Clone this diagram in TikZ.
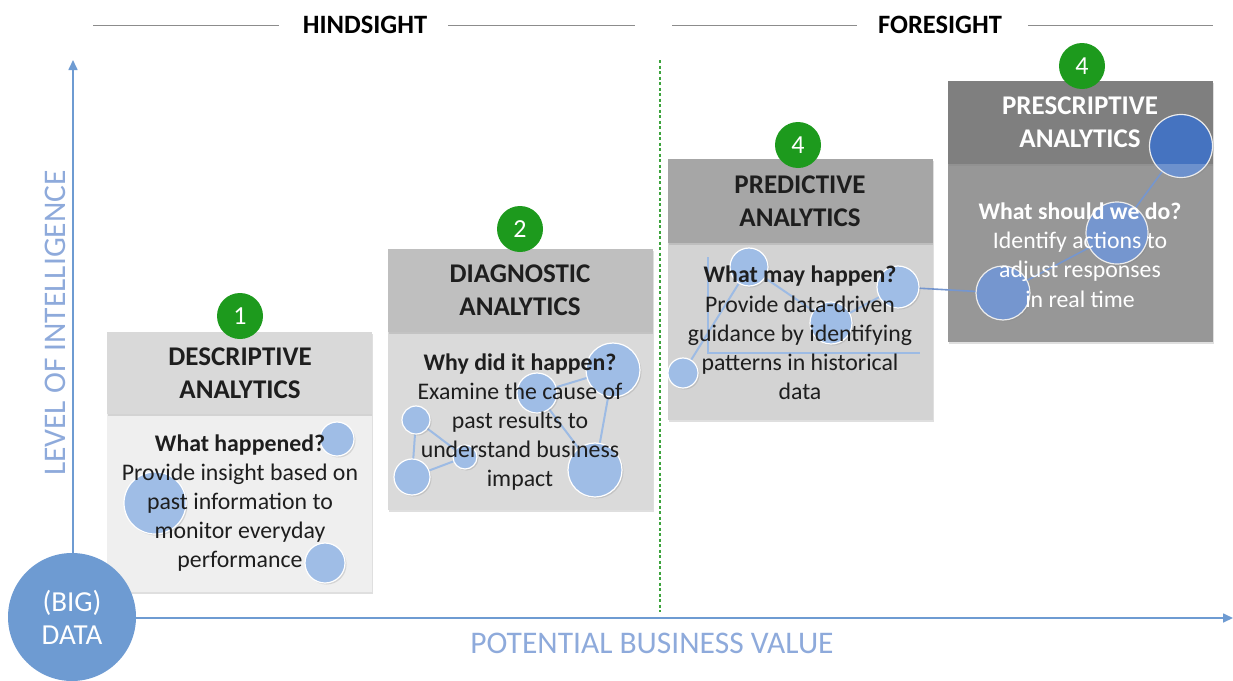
\documentclass[tikz,border=0pt]{standalone}
\usepackage{fontspec}
\setmainfont{Carlito}
\usetikzlibrary{arrows.meta,shadows}
\definecolor{axisblue}{HTML}{6E9BD2}
\definecolor{labelblue}{HTML}{8EAADB}
\definecolor{badgegreen}{HTML}{1D9A1D}
\definecolor{bubble}{HTML}{9FBDE6}
\definecolor{bubbledark}{HTML}{7596CF}
\definecolor{bubbletop}{HTML}{4573C0}
\definecolor{linkblue}{HTML}{9DBBE4}
\definecolor{hdA}{HTML}{D9D9D9}
\definecolor{bdA}{HTML}{EFEFEF}
\definecolor{hdB}{HTML}{BFBFBF}
\definecolor{bdB}{HTML}{DADADA}
\definecolor{hdC}{HTML}{A6A6A6}
\definecolor{bdC}{HTML}{D3D3D3}
\definecolor{hdD}{HTML}{7F7F7F}
\definecolor{bdD}{HTML}{979797}
\definecolor{txt}{HTML}{1E1E1E}
\definecolor{rule}{HTML}{8C8C8C}
\definecolor{dashgreen}{HTML}{3DA33D}
\begin{document}
\begin{tikzpicture}[x=1pt,y=-1pt,
  boxpart/.style={anchor=north west, inner sep=0pt, outer sep=0pt,
    drop shadow={shadow xshift=1pt, shadow yshift=-1.5pt, opacity=0.25}},
  bub/.style={circle, fill=bubble, draw=white, line width=1.2pt, inner sep=0pt,
    minimum size=#1, drop shadow={shadow xshift=1.5pt, shadow yshift=-1.5pt, opacity=0.25}},
  link/.style={draw=linkblue, line width=2pt},
  badge/.style={circle, fill=badgegreen, text=white, inner sep=0pt, minimum size=46pt,
    font=\fontsize{26}{26}\selectfont},
  headtxt/.style={align=center, text=txt, font=\fontsize{27}{33}\selectfont\bfseries},
  bodytxt/.style={align=center, text=txt, font=\fontsize{23.8}{29.2}\selectfont},
  section/.style={text=black, font=\fontsize{26.5}{26}\selectfont\bfseries},
  axislabel/.style={text=labelblue, font=\fontsize{31.5}{32}\selectfont},
  axis/.style={draw=axisblue, line width=1.6pt, -{Triangle[length=10pt,width=9pt]}}
]
\useasboundingbox (0,0) rectangle (1233,680);

% section headers
\node[section] (hind) at (365,25) {HINDSIGHT};
\node[section] (fore) at (940,25) {FORESIGHT};
\coordinate (h1) at (93,25); \coordinate (h2) at (279,25);
\coordinate (h3) at (448,25); \coordinate (h4) at (635,25);
\coordinate (f1) at (672,25); \coordinate (f2) at (857,25);
\coordinate (f3) at (1028,25); \coordinate (f4) at (1213,25);
\draw[rule, line width=1pt] (h1) -- (h2) (h3) -- (h4) (f1) -- (f2) (f3) -- (f4);

% green divider
\coordinate (g1) at (660,60); \coordinate (g2) at (660,612);
\draw[dashgreen, line width=1.2pt, dash pattern=on 3pt off 2.5pt] (g1) -- (g2);

% boxes
\node[boxpart, fill=bdA, minimum width=265pt, minimum height=178pt] (b1) at (107,414) {};
\node[boxpart, fill=hdA, minimum width=265pt, minimum height=82pt] (t1) at (107,332) {};
\node[boxpart, fill=bdB, minimum width=265pt, minimum height=178pt] (b2) at (388,332) {};
\node[boxpart, fill=hdB, minimum width=265pt, minimum height=83pt] (t2) at (388,249) {};
\node[boxpart, fill=bdC, minimum width=265pt, minimum height=177pt] (b3) at (668,243) {};
\node[boxpart, fill=hdC, minimum width=265pt, minimum height=84pt] (t3) at (668,159) {};
\node[boxpart, fill=bdD, minimum width=265pt, minimum height=178pt] (b4) at (948,164) {};
\node[boxpart, fill=hdD, minimum width=265pt, minimum height=83pt] (t4) at (948,81) {};

% badges
\node[badge] (n1) at (240,316) {1};
\node[badge] (n2) at (520,229) {2};
\node[badge] (n3) at (798,145) {4};
\node[badge] (n4) at (1082,66) {4};

% bubble centres
\coordinate (pa) at (337,439);
\coordinate (pb) at (155,503);
\coordinate (pc) at (325,563);
\coordinate (qa) at (416,420);
\coordinate (qb) at (412,477);
\coordinate (qc) at (465,457);
\coordinate (qd) at (537,393);
\coordinate (qe) at (613,370);
\coordinate (qf) at (595,470);
\coordinate (rg) at (749,267);
\coordinate (rh) at (898,287);
\coordinate (ri) at (831,323);
\coordinate (rj) at (683,373);
\coordinate (sk) at (1003,293);
\coordinate (sl) at (1117,233);
\coordinate (sm) at (1181,146);
\coordinate (ax1) at (708,257);
\coordinate (ax2) at (708,353);
\coordinate (ax3) at (920,353);

% links
\draw[link] (qa) -- (qb) -- (qc) -- (qa);
\draw[link] (qe) -- (qd) -- (qf) -- (qe);
\draw[link, line width=1.5pt] (ax1) -- (ax2) -- (ax3);
\draw[link] (rj) -- (rg) -- (ri) -- (rh);
\draw[draw=bubbledark, line width=1.6pt] (rh) -- (sk) -- (sl) -- (sm);

% bubbles
\node[bub=34pt] (A1) at (pa) {};
\node[bub=62pt] (A2) at (pb) {};
\node[bub=40pt] (A3) at (pc) {};
\node[bub=28pt] (B1) at (qa) {};
\node[bub=36pt] (B2) at (qb) {};
\node[bub=24pt] (B3) at (qc) {};
\node[bub=40pt] (B4) at (qd) {};
\node[bub=54pt] (B5) at (qe) {};
\node[bub=54pt] (B6) at (qf) {};
\node[bub=38pt] (C1) at (rg) {};
\node[bub=42pt] (C2) at (rh) {};
\node[bub=42pt] (C3) at (ri) {};
\node[bub=30pt] (C4) at (rj) {};
\node[bub=54pt, fill=bubbledark, draw=white!85!gray] (D1) at (sk) {};
\node[bub=62pt, fill=bubbledark, draw=white!85!gray] (D2) at (sl) {};
\node[bub=63pt, fill=bubbletop, draw=white!85!gray] (D3) at (sm) {};
\begin{scope}
  \clip (948,164) rectangle (1213,342);
  \fill[white, opacity=0.22] (sm) circle (31pt);
\end{scope}

% header texts
\node[headtxt] (x1) at (240,373) {DESCRIPTIVE\\ANALYTICS};
\node[headtxt] (x2) at (520,290) {DIAGNOSTIC\\ANALYTICS};
\node[headtxt] (x3) at (800,201) {PREDICTIVE\\ANALYTICS};
\node[headtxt, text=white] (x4) at (1080,122) {PRESCRIPTIVE\\ANALYTICS};

% body texts
\node[bodytxt] (y1) at (240,503) {\textbf{What happened?}\\Provide insight based on\\past information to\\monitor everyday\\performance};
\node[bodytxt] (y2) at (520,422) {\textbf{Why did it happen?}\\Examine the cause of\\past results to\\understand business\\impact};
\node[bodytxt] (y3) at (800,333) {\textbf{What may happen?}\\Provide data-driven\\guidance by identifying\\patterns in historical\\data};
\node[bodytxt, text=white] (y4) at (1080,255) {\textbf{What should we do?}\\Identify actions to\\adjust responses\\in real time};

% axes and big data
\node[circle, fill=axisblue, text=white, inner sep=0pt, minimum size=128pt, align=center,
  font=\fontsize{29}{33}\selectfont] (big) at (72,617) {(BIG)\\DATA};
\coordinate (ytop) at (73,60);
\coordinate (xend) at (1233,618);
\draw[axis] (big.north -| ytop) -- (ytop);
\draw[axis] (big.east |- xend) -- (xend);
\node[axislabel] (xl) at (652,643) {POTENTIAL BUSINESS VALUE};
\node[axislabel, rotate=90] (yl) at (55,323) {LEVEL OF INTELLIGENCE};
\end{tikzpicture}
\end{document}
